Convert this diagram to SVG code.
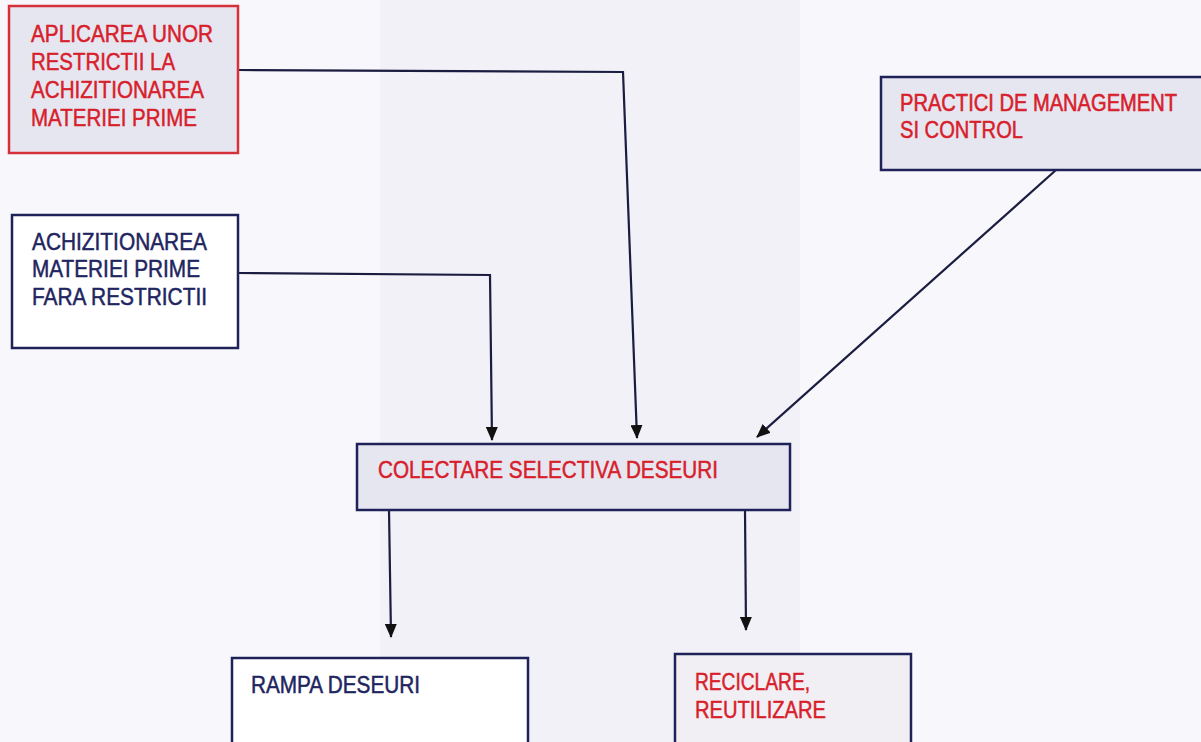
<svg xmlns="http://www.w3.org/2000/svg" width="1201" height="742" viewBox="0 0 1201 742">
<style>
.t{font-family:"Liberation Sans",Arial,sans-serif;font-size:24px;stroke-width:0.5}
.red{fill:#d8202a;stroke:#d8202a}
.navy{fill:#1e2560;stroke:#1e2560}
.lav{fill:#e6e6f1}
.bn{stroke:#1e2258;stroke-width:2.5}
.br{stroke:#d6303a;stroke-width:2.5}
.c{fill:none;stroke:#1a1c40;stroke-width:2.2}
</style>
<defs>
<marker id="ah" viewBox="0 0 14 12" refX="13" refY="6" markerWidth="14" markerHeight="12" markerUnits="userSpaceOnUse" orient="auto">
<path d="M0,0 L14,6 L0,12 Z" fill="#111"/>
</marker>
</defs>
<rect width="1201" height="742" fill="#f8f8fc"/>
<rect x="380" y="0" width="420" height="742" fill="#f1f1f7"/>
<g id="connectors">
<polyline class="c" points="238,70 623,72 637,438" marker-end="url(#ah)"/>
<polyline class="c" points="238,273 490,275 492,440" marker-end="url(#ah)"/>
<line class="c" x1="1056" y1="170" x2="757" y2="437" marker-end="url(#ah)"/>
<line class="c" x1="389" y1="510" x2="391" y2="637" marker-end="url(#ah)"/>
<line class="c" x1="745" y1="510" x2="746" y2="630" marker-end="url(#ah)"/>
</g>
<g id="n1">
<rect x="9" y="6" width="229" height="147" class="lav br"/>
<text class="t red" x="31" y="42" textLength="182" lengthAdjust="spacingAndGlyphs">APLICAREA UNOR</text>
<text class="t red" x="31" y="70" textLength="144" lengthAdjust="spacingAndGlyphs">RESTRICTII LA</text>
<text class="t red" x="31" y="98" textLength="173" lengthAdjust="spacingAndGlyphs">ACHIZITIONAREA</text>
<text class="t red" x="31" y="126" textLength="166" lengthAdjust="spacingAndGlyphs">MATERIEI PRIME</text>
</g>
<g id="n2">
<rect x="881" y="77" width="320" height="93" class="lav"/>
<path d="M1201,77 H881 V170 H1201" fill="none" class="bn"/>
<text class="t red" transform="matrix(1,0,0,1.14,900,111)" x="0" y="0" style="font-size:21px" textLength="277" lengthAdjust="spacingAndGlyphs">PRACTICI DE MANAGEMENT</text>
<text class="t red" x="900" y="138" textLength="123" lengthAdjust="spacingAndGlyphs">SI CONTROL</text>
</g>
<g id="n3">
<rect x="12" y="215" width="226" height="133" fill="#ffffff" class="bn"/>
<text class="t navy" x="32" y="250" textLength="175" lengthAdjust="spacingAndGlyphs">ACHIZITIONAREA</text>
<text class="t navy" x="32" y="277" textLength="168" lengthAdjust="spacingAndGlyphs">MATERIEI PRIME</text>
<text class="t navy" x="32" y="305" textLength="175" lengthAdjust="spacingAndGlyphs">FARA RESTRICTII</text>
</g>
<g id="n4">
<rect x="357" y="444" width="433" height="66" class="lav bn"/>
<text class="t red" x="378" y="478" textLength="340" lengthAdjust="spacingAndGlyphs">COLECTARE SELECTIVA DESEURI</text>
</g>
<g id="n5">
<rect x="232" y="658" width="296" height="90" fill="#ffffff" class="bn"/>
<text class="t navy" x="251" y="693" textLength="169" lengthAdjust="spacingAndGlyphs">RAMPA DESEURI</text>
</g>
<g id="n6">
<rect x="675" y="654" width="236" height="94" fill="#f1eff4" class="bn"/>
<text class="t red" x="695" y="690" textLength="115" lengthAdjust="spacingAndGlyphs">RECICLARE,</text>
<text class="t red" x="695" y="718" textLength="131" lengthAdjust="spacingAndGlyphs">REUTILIZARE</text>
</g>
</svg>
